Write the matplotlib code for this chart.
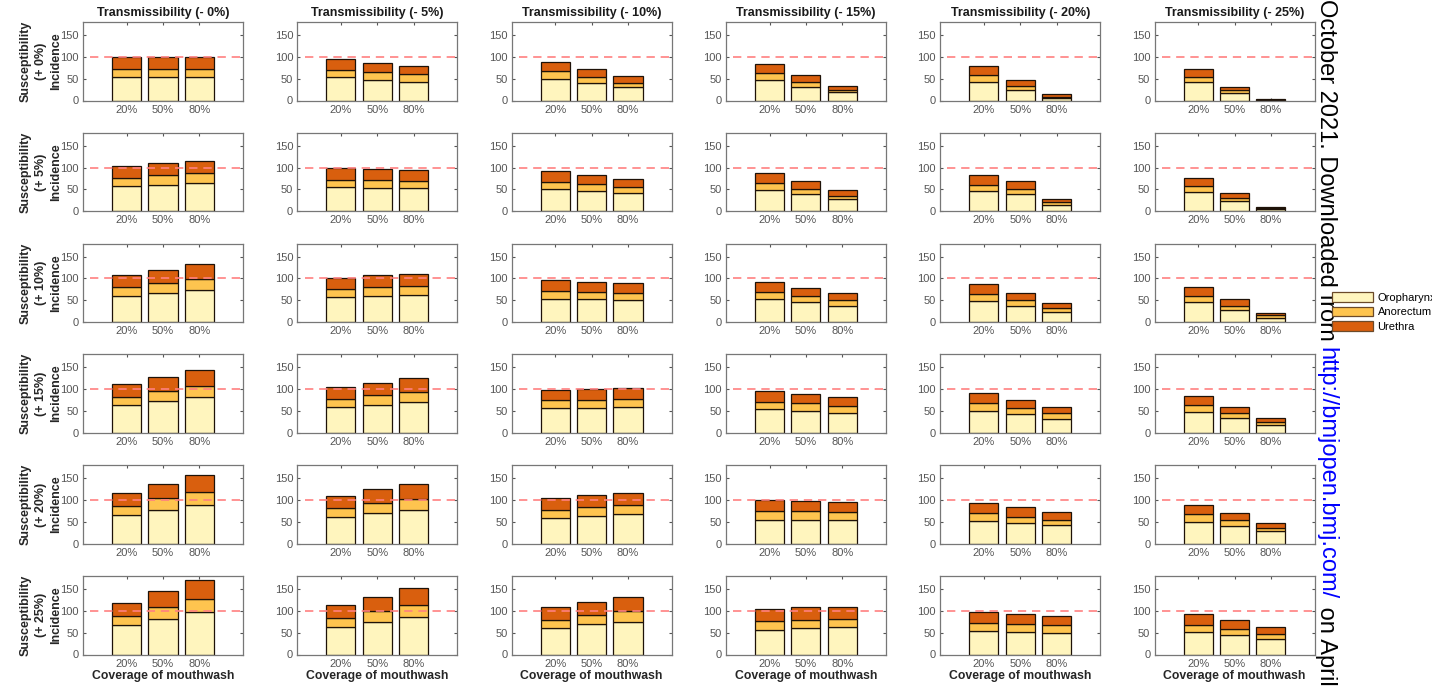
import matplotlib
matplotlib.use("Agg")
import matplotlib.pyplot as plt
from matplotlib.patches import Patch

plt.rcParams["font.family"] = ["Liberation Sans", "DejaVu Sans"]

coverage = ["20%", "50%", "80%"]
transmissibility = ["-0%", "-5%", "-10%", "-15%", "-20%", "-25%"]
susceptibility = ["+ 0%", "+ 5%", "+ 10%", "+ 15%", "+ 20%", "+ 25%"]
sites = ["Oropharynx", "Anorectum", "Urethra"]
colors = ["#FFF5BE", "#FEC44F", "#D95F0E"]

# incidence per site, [susceptibility row][transmissibility col][coverage]
oropharynx = [
    [[55, 55, 55], [53, 48, 43], [48.5, 41, 31.5], [47, 32, 18.5], [43, 24.6, 6], [41.5, 17.7, 1]],
    [[58, 61, 66], [56, 53.5, 53.5], [51, 47, 42], [49.6, 40, 28], [46, 40, 15.5], [44, 23, 5]],
    [[60, 67, 73.6], [58, 60, 62], [54, 52, 50], [52, 46, 38], [48, 36, 23], [46, 28, 10]],
    [[63, 73, 83], [59, 65, 71], [58, 58, 59], [55, 51, 46], [51, 43, 33], [48, 35, 19]],
    [[65, 77, 89], [60.5, 70.5, 78], [60, 63.5, 67], [55, 55, 55], [53, 48, 42], [50, 41, 28.7]],
    [[67, 82, 97.7], [63.5, 74, 85], [61, 69, 74], [56.6, 61, 63.5], [54, 52.7, 49.6], [51, 45.7, 35]],
]
anorectum = [
    [[18, 18, 18], [17, 17, 17], [18.5, 13, 8.5], [16, 10, 6.5], [15.5, 8.4, 3], [12.5, 6.9, 1]],
    [[18, 22, 21], [16, 18.5, 17], [17, 16, 14], [14.4, 11, 8], [15, 11, 5.5], [13, 8, 2]],
    [[20, 22, 24.4], [18, 20, 21], [18, 17, 17], [17, 13, 12], [16, 14, 9], [14, 8, 5.5]],
    [[20, 22, 24], [19.5, 22, 23], [17, 18, 19], [16, 17, 15.5], [17, 15, 11.6], [15, 11, 7]],
    [[21, 27, 30], [21.5, 22.5, 24], [17.5, 21, 20.6], [19, 19, 17], [18, 14, 12], [17, 12.5, 7.3]],
    [[21, 28, 30.3], [20.5, 26, 28], [19, 22, 25], [20.4, 19, 18.5], [18, 17.3, 17.4], [17, 13.3, 12]],
]
urethra = [
    [[27, 27, 27], [25, 21, 18], [21, 18, 17], [21, 17, 9], [20, 13, 5.6], [18, 7.4, 1.5]],
    [[28.6, 27, 28], [26.5, 25, 24], [24, 20, 17], [24, 19, 13], [22, 18, 8], [20.5, 11, 2]],
    [[28.5, 31, 34.5], [26, 27, 28], [25, 24, 22], [23, 19, 17], [23, 16, 11], [21, 16, 5.5]],
    [[28.5, 34, 37], [26.5, 28, 31], [24, 25.5, 26], [25, 21, 20], [23, 17, 13.9], [22, 14, 8.6]],
    [[29.5, 33, 39], [27, 32, 36], [26.5, 26.5, 29.4], [26, 24.5, 23], [23, 22.5, 19], [21, 16.5, 12]],
    [[30.6, 36.5, 42.5], [29, 32.5, 39], [28, 30, 32], [27, 28, 28], [26.5, 22, 20.6], [24, 20, 15]],
]

W, H = 1432, 689
fig = plt.figure(figsize=(W / 100, H / 100), dpi=100)

x = [1, 2, 3]
for i in range(6):
    for j in range(6):
        left = 83 + 214.3 * j
        top = 22 + 110.8 * i
        ax = fig.add_axes([left / W, 1 - (top + 78.5) / H, 160 / W, 78.5 / H])
        bottom = [0, 0, 0]
        for vals, c in zip([oropharynx[i][j], anorectum[i][j], urethra[i][j]], colors):
            ax.bar(x, vals, width=0.8, bottom=bottom, color=c,
                   edgecolor="#1e1208", linewidth=0.9, zorder=2)
            bottom = [b + v for b, v in zip(bottom, vals)]
        ax.plot([0, 4.2], [100, 100], color="#ff8080", lw=1.2,
                linestyle=(0, (5, 3.5)), zorder=3)
        ax.set_xlim(-0.2, 4.2)
        ax.set_ylim(0, 180)
        ax.set_yticks([0, 50, 100, 150])
        ax.set_xticks(x)
        ax.set_xticklabels(coverage)
        ax.tick_params(direction="in", length=2, top=True, right=True,
                       labelsize=8, colors="#555555", pad=3)
        for s in ax.spines.values():
            s.set_color("#777777")
            s.set_linewidth(0.9)
        if i == 0:
            ax.set_title("Transmissibility (" + transmissibility[j].replace("-", "- ") + ")",
                         fontsize=9, fontweight="bold", color="#1a1a1a", pad=4)
        if j == 0:
            ax.set_ylabel("Susceptibility\n(" + susceptibility[i] + ")\nIncidence",
                          fontsize=9, fontweight="bold", color="#262626",
                          labelpad=-1, linespacing=1.35)
        if i == 5:
            ax.set_xlabel("Coverage of mouthwash", fontsize=8.8, fontweight="bold",
                          color="#262626", labelpad=1)

handles = [Patch(facecolor=c, edgecolor="#6b4a2a", linewidth=0.9) for c in colors]
fig.legend(handles, sites, loc="upper left", bbox_to_anchor=(1332 / W, 1 - 292 / H),
           frameon=False, fontsize=8, handlelength=3.7, handleheight=0.95,
           labelspacing=0.35, handletextpad=0.4, borderpad=0, borderaxespad=0)

# rotated download watermark down the right side
parts = [("October 2021. Downloaded from ", "black"),
         ("http://bmjopen.bmj.com/", "blue"),
         (" on April", "black")]
renderer = fig.canvas.get_renderer()
ypos = H + 1
for txt, col in parts:
    t = fig.text(1326 / W, ypos / H, txt, rotation=-90, color=col, fontsize=17,
                 ha="center", va="top")
    ext = t.get_window_extent(renderer)
    ypos -= ext.height

fig.savefig("out.png", dpi=100)
